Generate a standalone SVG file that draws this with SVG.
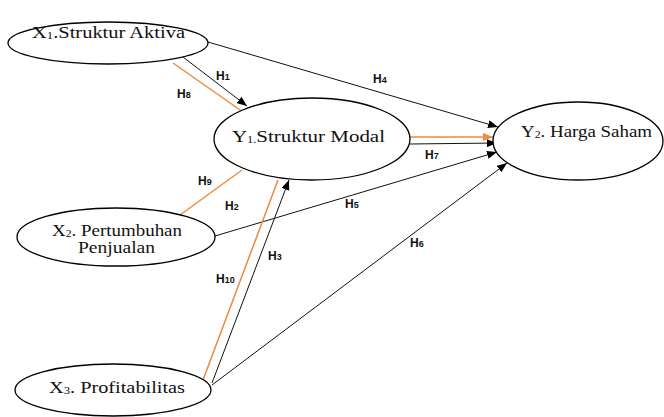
<svg xmlns="http://www.w3.org/2000/svg" width="664" height="417" viewBox="0 0 664 417">
<defs>
<style>
.node ellipse{fill:#fff;stroke:#000;stroke-width:1.3}
.nt{font-family:"Liberation Serif","Times New Roman",serif;font-size:16px;fill:#111}
.sub{font-size:10px}
.ln{stroke:#111;stroke-width:1;fill:none}
.or{stroke:#f08a3c;stroke-width:1.5;fill:none}
.lb{font-family:"Liberation Sans",Arial,sans-serif;font-size:12px;font-weight:bold;fill:#111}
.lb tspan{font-size:9px}
</style>
<marker id="ab" markerUnits="userSpaceOnUse" markerWidth="10" markerHeight="8" refX="10" refY="4" orient="auto"><path d="M0,0 L10,4 L0,8 z" fill="#000"/></marker>
<marker id="ao" markerUnits="userSpaceOnUse" markerWidth="10" markerHeight="8" refX="10" refY="4" orient="auto"><path d="M0,0 L10,4 L0,8 z" fill="#f08a3c"/></marker>
</defs>
<rect width="664" height="417" fill="#fff"/>
<g id="connectors">
<line class="ln" x1="208" y1="42" x2="498" y2="127" marker-end="url(#ab)"/>
<line class="ln" x1="183" y1="57" x2="247" y2="106" marker-end="url(#ab)"/>
<line class="or" x1="173" y1="63" x2="243" y2="112"/>
<line class="or" x1="410" y1="137" x2="493" y2="137" marker-end="url(#ao)"/>
<line class="ln" x1="410" y1="144" x2="497" y2="143" marker-end="url(#ab)"/>
<line class="ln" x1="215" y1="236" x2="497" y2="152" marker-end="url(#ab)"/>
<line class="ln" x1="212" y1="385" x2="507" y2="163" marker-end="url(#ab)"/>
<line class="ln" x1="212" y1="383" x2="289" y2="180" marker-end="url(#ab)"/>
<line class="or" x1="203" y1="380" x2="278" y2="180"/>
<line class="or" x1="180" y1="215" x2="242" y2="170"/>
<text class="lb" x="216" y="80">H<tspan>1</tspan></text>
<text class="lb" x="177" y="98">H<tspan>8</tspan></text>
<text class="lb" x="373" y="83">H<tspan>4</tspan></text>
<text class="lb" x="425" y="159">H<tspan>7</tspan></text>
<text class="lb" x="198" y="185">H<tspan>9</tspan></text>
<text class="lb" x="225" y="210">H<tspan>2</tspan></text>
<text class="lb" x="345" y="208">H<tspan>5</tspan></text>
<text class="lb" x="410" y="247">H<tspan>6</tspan></text>
<text class="lb" x="268" y="260">H<tspan>3</tspan></text>
<text class="lb" x="216" y="283">H<tspan>10</tspan></text>
</g>
<g id="x1" class="node">
<ellipse cx="108" cy="43" rx="100" ry="21"/>
<text class="nt" x="32" y="38" textLength="153" lengthAdjust="spacingAndGlyphs">X<tspan class="sub" dy="1">1</tspan><tspan dy="-1">.Struktur Aktiva</tspan></text>
</g>
<g id="y1" class="node">
<ellipse cx="312" cy="139" rx="98" ry="41"/>
<text class="nt" x="232" y="142" textLength="153" lengthAdjust="spacingAndGlyphs" style="font-size:17px">Y<tspan class="sub" dy="1">1.</tspan><tspan dy="-1">Struktur Modal</tspan></text>
</g>
<g id="y2" class="node">
<ellipse cx="578" cy="141" rx="85" ry="39"/>
<text class="nt" x="521" y="137" textLength="131" lengthAdjust="spacingAndGlyphs">Y<tspan class="sub" dy="1">2</tspan><tspan dy="-1">. Harga Saham</tspan></text>
</g>
<g id="x2" class="node">
<ellipse cx="116" cy="237" rx="99" ry="29"/>
<text class="nt" x="52" y="236" textLength="130" lengthAdjust="spacingAndGlyphs">X<tspan class="sub" dy="1">2</tspan><tspan dy="-1">. Pertumbuhan</tspan></text>
<text class="nt" x="78" y="253" textLength="77" lengthAdjust="spacingAndGlyphs">Penjualan</text>
</g>
<g id="x3" class="node">
<ellipse cx="113" cy="390" rx="98" ry="26"/>
<text class="nt" x="49" y="393" textLength="136" lengthAdjust="spacingAndGlyphs">X<tspan class="sub" dy="1">3</tspan><tspan dy="-1">. Profitabilitas</tspan></text>
</g>
</svg>
